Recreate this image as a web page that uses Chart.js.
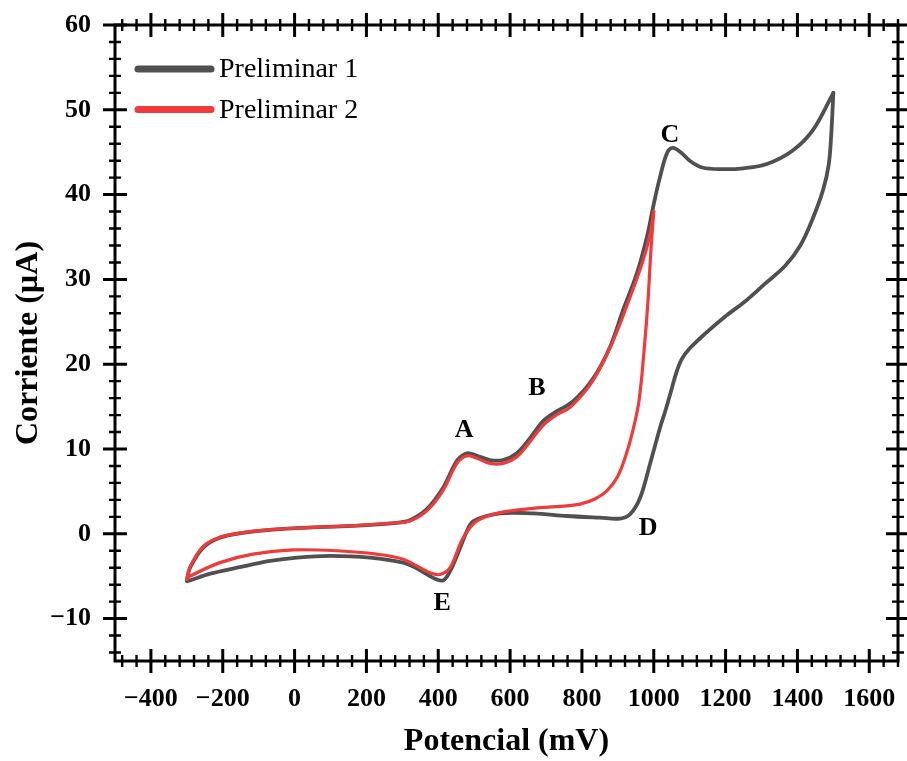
<!DOCTYPE html>
<html>
<head>
<meta charset="utf-8">
<script src="https://cdn.jsdelivr.net/npm/chart.js@4.4.1/dist/chart.umd.min.js"></script>
<style>
  html, body { margin: 0; padding: 0; background: #ffffff; }
  #cv { display: block; }
</style>
</head>
<body>
<canvas id="cv" width="907" height="761"></canvas>
<script>
// Cyclic voltammograms: potential (mV) vs current (µA)

// Preliminar 1 – anodic sweep (-300 → 1500 mV)
const p1FwdV = [-300, -291, -255, -208, -144, -68, 23, 162, 285, 321, 368, 413, 452, 480, 508, 544, 580, 619, 656, 692, 728, 775, 831, 878, 914, 953, 981, 998, 1017, 1037, 1053, 1075, 1100, 1135, 1190, 1250, 1315, 1387, 1443, 1500];
const p1FwdI = [-5.5, -4.0, -1.65, -0.47, 0.12, 0.47, 0.7, 0.94, 1.3, 1.6, 2.9, 5.4, 8.6, 9.5, 9.2, 8.7, 8.7, 9.5, 11.3, 13.3, 14.4, 15.6, 18.3, 22.0, 26.3, 30.7, 35.0, 38.5, 42.0, 44.9, 45.5, 45.0, 44.0, 43.2, 43.0, 43.1, 43.6, 45.2, 47.6, 52.0];
// Preliminar 1 – cathodic sweep (1500 → -300 mV)
const p1RevV = [1500, 1494, 1487, 1471, 1441, 1408, 1366, 1310, 1254, 1198, 1143, 1101, 1078, 1062, 1048, 1033, 1018, 990, 962, 934, 906, 850, 758, 665, 572, 498, 480, 461, 433, 413, 386, 341, 302, 210, 99, 7, -68, -160, -235, -291, -300];
const p1RevI = [52.0, 47.0, 43.5, 40.5, 37.0, 34.0, 31.6, 29.5, 27.4, 25.6, 23.6, 21.9, 20.6, 18.9, 16.8, 14.6, 12.6, 8.3, 4.25, 2.3, 1.8, 1.9, 2.1, 2.4, 2.4, 1.5, 0.35, -1.65, -4.4, -5.5, -5.2, -4.1, -3.4, -2.8, -2.6, -2.8, -3.2, -4.0, -4.7, -5.5, -5.6];

// Preliminar 2 – anodic sweep (-300 → 1000 mV)
const p2FwdV = [-300, -291, -255, -208, -144, -68, 23, 162, 285, 321, 368, 413, 452, 480, 508, 544, 580, 619, 656, 692, 728, 767, 831, 887, 934, 970, 990, 1000];
const p2FwdI = [-5.4, -3.9, -1.5, -0.4, 0.15, 0.5, 0.7, 0.95, 1.3, 1.5, 2.7, 5.1, 8.3, 9.2, 8.9, 8.3, 8.3, 9.1, 10.9, 12.8, 14.0, 14.9, 18.1, 22.8, 27.9, 32.2, 35.4, 38.0];
// Preliminar 2 – cathodic sweep (1000 → -300 mV)
const p2RevV = [1000, 992, 984, 973, 959, 942, 922, 900, 870, 836, 795, 758, 665, 572, 507, 469, 433, 405, 377, 302, 229, 118, -4, -116, -208, -291, -300];
const p2RevI = [38.0, 33.4, 27.5, 21.6, 15.7, 12.2, 9.2, 6.8, 5.1, 4.1, 3.5, 3.3, 3.0, 2.5, 1.5, -0.5, -4.0, -4.8, -4.6, -3.0, -2.4, -2.0, -1.9, -2.4, -3.4, -5.0, -5.4];

// Axis tick labels
const xTickValues = [-400, -200, 0, 200, 400, 600, 800, 1000, 1200, 1400, 1600];
const yTickValues = [-10, 0, 10, 20, 30, 40, 50, 60];

// Peak annotations (label, potential, current)
const peakNames = ['A', 'B', 'C', 'D', 'E'];
const peakV = [472, 675, 1045, 984, 411];
const peakI = [12.2, 17.2, 47.0, 0.6, -8.2];

const seriesNames = ['Preliminar 1', 'Preliminar 2'];
const GREY = '#505050';
const RED = '#ef3b3b';
const SERIF = '"Liberation Serif", "Times New Roman", serif';

const toPoints = (xs, ys) => xs.map((v, i) => ({ x: v, y: ys[i] }));
const fmt = v => (v < 0 ? '\u2212' + Math.abs(v) : String(v));

const datasets = [
  { label: seriesNames[1], data: toPoints(p2FwdV, p2FwdI), borderColor: RED, borderWidth: 3.2, order: 0 },
  { label: seriesNames[1], data: toPoints(p2RevV, p2RevI), borderColor: RED, borderWidth: 3.2, order: 0 },
  { label: seriesNames[0], data: toPoints(p1FwdV, p1FwdI), borderColor: GREY, borderWidth: 3.8, order: 1 },
  { label: seriesNames[0], data: toPoints(p1RevV, p1RevI), borderColor: GREY, borderWidth: 3.8, order: 1 }
].map(d => Object.assign(d, { showLine: true, pointRadius: 0, tension: 0.35, fill: false, borderCapStyle: 'round', borderJoinStyle: 'round' }));

// Boxed frame with crossing major/minor ticks on all four sides
const framePlugin = {
  id: 'frame',
  afterDraw(chart) {
    const { ctx, chartArea: a, scales: { x, y } } = chart;
    ctx.save();
    ctx.strokeStyle = '#000';
    ctx.lineCap = 'butt';
    ctx.lineWidth = 3;
    ctx.strokeRect(a.left, a.top, a.right - a.left, a.bottom - a.top);
    for (let k = -12; k <= 42; k++) {
      const v = k * 40;
      if (v < x.min || v > x.max) continue;
      const px = x.getPixelForValue(v);
      const major = v % 200 === 0;
      const L = major ? 12 : 6;
      ctx.lineWidth = major ? 3 : 2.4;
      ctx.beginPath();
      ctx.moveTo(px, a.bottom - L); ctx.lineTo(px, a.bottom + L);
      ctx.moveTo(px, a.top - L); ctx.lineTo(px, a.top + L);
      ctx.stroke();
    }
    for (let k = -7; k <= 30; k++) {
      const v = k * 2;
      if (v < y.min || v > y.max) continue;
      const py = y.getPixelForValue(v);
      const major = v % 10 === 0;
      const L = major ? 12 : 6;
      ctx.lineWidth = major ? 3 : 2.4;
      ctx.beginPath();
      ctx.moveTo(a.left - L, py); ctx.lineTo(a.left + L, py);
      ctx.moveTo(a.right - L, py); ctx.lineTo(a.right + L, py);
      ctx.stroke();
    }
    ctx.restore();
  }
};

// Legend in the upper-left corner of the plot
const legendPlugin = {
  id: 'cornerLegend',
  afterDraw(chart) {
    const { ctx, chartArea: a } = chart;
    const entries = [[seriesNames[0], GREY], [seriesNames[1], RED]];
    ctx.save();
    entries.forEach(([name, color], i) => {
      const yy = a.top + 44 + i * 40.5;
      ctx.strokeStyle = color;
      ctx.lineWidth = 7;
      ctx.lineCap = 'round';
      ctx.beginPath();
      ctx.moveTo(a.left + 23, yy);
      ctx.lineTo(a.left + 96, yy);
      ctx.stroke();
      ctx.fillStyle = '#000';
      ctx.font = '28px ' + SERIF;
      ctx.textAlign = 'left';
      ctx.textBaseline = 'middle';
      ctx.fillText(name, a.left + 104, yy + 1);
    });
    ctx.restore();
  }
};

// Peak letters
const peakPlugin = {
  id: 'peaks',
  afterDatasetsDraw(chart) {
    const { ctx, scales: { x, y } } = chart;
    ctx.save();
    ctx.fillStyle = '#000';
    ctx.font = 'bold 26px ' + SERIF;
    ctx.textAlign = 'center';
    ctx.textBaseline = 'middle';
    peakNames.forEach((n, i) => {
      ctx.fillText(n, x.getPixelForValue(peakV[i]), y.getPixelForValue(peakI[i]));
    });
    ctx.restore();
  }
};

// Keep the plot box fixed: no extra room reserved for label overhang
const noOverhang = s => { s.paddingLeft = 0; s.paddingRight = 0; s.paddingTop = 0; s.paddingBottom = 0; };

new Chart(document.getElementById('cv'), {
  type: 'scatter',
  data: { datasets },
  options: {
    responsive: false,
    animation: false,
    events: [],
    layout: { padding: { left: 0, top: 25, right: 9, bottom: 0 } },
    plugins: { legend: { display: false }, tooltip: { enabled: false } },
    scales: {
      x: {
        type: 'linear',
        min: -500,
        max: 1680,
        grid: { display: false, drawTicks: false },
        border: { display: false },
        afterBuildTicks: s => { s.ticks = xTickValues.map(v => ({ value: v })); },
        afterFit: s => { s.height = 100; noOverhang(s); },
        ticks: {
          autoSkip: false, maxRotation: 0, padding: 23, color: '#000',
          font: { family: SERIF, size: 26, weight: 'bold' },
          callback: v => fmt(v)
        },
        title: {
          display: true, text: 'Potencial (mV)', color: '#000',
          font: { family: SERIF, size: 32, weight: 'bold' },
          padding: { top: 0, bottom: 0 }
        }
      },
      y: {
        type: 'linear',
        min: -15,
        max: 60,
        grid: { display: false, drawTicks: false },
        border: { display: false },
        afterBuildTicks: s => { s.ticks = yTickValues.map(v => ({ value: v })); },
        afterFit: s => { s.width = 115; noOverhang(s); },
        ticks: {
          autoSkip: false, padding: 24, color: '#000',
          font: { family: SERIF, size: 26, weight: 'bold' },
          callback: v => fmt(v)
        },
        title: {
          display: true, text: 'Corriente (\u00b5A)', color: '#000',
          font: { family: SERIF, size: 32, weight: 'bold' },
          padding: { top: 10, bottom: 0 }
        }
      }
    }
  },
  plugins: [framePlugin, legendPlugin, peakPlugin]
});
</script>
</body>
</html>
